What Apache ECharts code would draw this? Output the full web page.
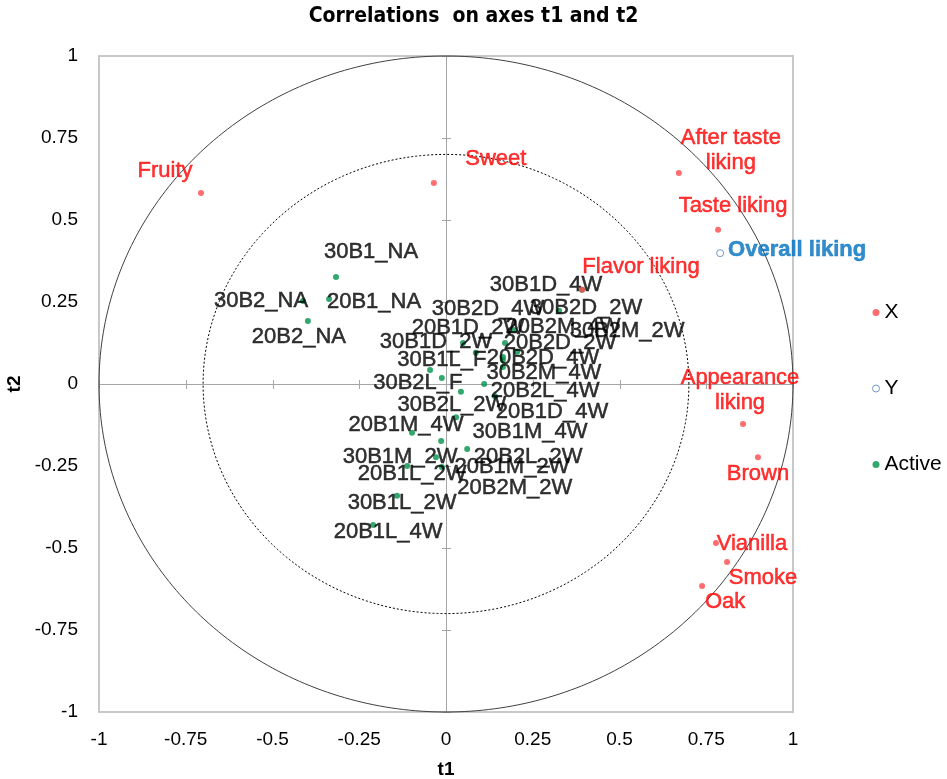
<!DOCTYPE html>
<html>
<head>
<meta charset="utf-8">
<script src="https://cdn.jsdelivr.net/npm/echarts@6/dist/echarts.min.js"></script>
<style>html,body{margin:0;padding:0;background:#fff}#c{width:947px;height:779px}</style>
</head>
<body>
<div id="c"></div>
<script>
// ---- data ----
const xNames = ['Fruity','Sweet','After taste liking','Taste liking','Flavor liking','Appearance liking','Brown','Vianilla','Smoke','Oak'];
const xT1 = [-0.706,-0.035,0.671,0.784,0.392,0.856,0.899,0.778,0.810,0.738];
const xT2 = [0.582,0.613,0.643,0.470,0.287,-0.122,-0.223,-0.485,-0.543,-0.616];

const yNames = ['Overall liking'];
const yT1 = [0.790];
const yT2 = [0.399];

const activeNames = ['30B1_NA','20B1_NA','30B2_NA','20B2_NA','30B1D_4W','30B2D_2W','20B2M_4W','30B2D_4W','20B2D_2W','30B1L_F','30B2M_2W','20B2D_4W','20B1D_2W','30B2M_4W','30B1D_2W','30B2L_F','20B2L_4W','30B2L_2W','20B1D_4W','30B1M_4W','20B1M_4W','30B1M_2W','20B2L_2W','20B1M_2W','20B1L_2W','20B2M_2W','30B1L_2W','20B1L_4W'];
const activeT1 = [-0.317,-0.337,-0.412,-0.398,0.392,0.326,0.196,0.049,0.170,0.086,0.205,0.164,0.164,0.164,-0.046,-0.012,0.110,0.043,0.141,0.029,-0.098,-0.014,0.061,-0.029,-0.112,-0.012,-0.141,-0.210];
const activeT2 = [0.326,0.259,0.253,0.192,0.287,0.223,0.165,0.125,0.125,0.095,0.098,0.082,0.073,0.052,0.043,0.018,0.000,-0.024,-0.037,-0.101,-0.149,-0.174,-0.198,-0.223,-0.250,-0.253,-0.341,-0.430];

const circleRadii = [1, 0.7];
const axisMin = -1, axisMax = 1, axisStep = 0.25;

// ---- label placement (style only) ----
const labelOffsets = {
  'Fruity':[-36,-22],'Sweet':[62,-24],'After taste liking':[52,-23],'Taste liking':[15,-24],
  'Flavor liking':[59,-23],'Appearance liking':[-3,-34],'Brown':[0,17],'Vianilla':[36,1],
  'Smoke':[36,16],'Oak':[23,16],'Overall liking':[77,-3],
  '30B1_NA':[35,-25],'20B1_NA':[45,3],'30B2_NA':[-42,0],'20B2_NA':[-9,16],
  '30B1D_4W':[-36,-5],'30B2D_2W':[27,-3],'20B2M_4W':[49,-3],'30B2D_4W':[25,-34],
  '20B2D_2W':[55,0],'30B1L_F':[-34,7],'30B2M_2W':[110,-21],'20B2D_4W':[40,1],
  '20B1D_2W':[-35,-32],'30B2M_4W':[41,6],'30B1D_2W':[6,-28],'30B2L_F':[-24,5],
  '20B2L_4W':[61,7],'30B2L_2W':[-9,13],'20B1D_4W':[57,16],'30B1M_4W':[74,15],
  '20B1M_4W':[-6,-8],'30B1M_2W':[-41,16],'20B2L_2W':[61,8],'20B1M_2W':[76,10],
  '20B1L_2W':[5,8],'20B2M_2W':[73,21],'30B1L_2W':[5,7],'20B1L_4W':[15,7]
};
const wrapped = {'After taste liking':'After taste\nliking','Appearance liking':'Appearance\nliking'};

function pts(names, a, b) {
  return names.map((n, i) => ({
    name: n, value: [a[i], b[i]],
    label: { offset: labelOffsets[n] || [0, 0] }
  }));
}

const tickValues = [];
for (let v = axisMin; v <= axisMax + 1e-9; v += axisStep) tickValues.push(+v.toFixed(4));

const FONT = 'Liberation Sans, Arial, sans-serif';
const chart = echarts.init(document.getElementById('c'), null, {renderer: 'canvas'});

const baseLabel = {show: true, position: 'inside', fontFamily: FONT, fontSize: 22,
  align: 'center', verticalAlign: 'middle', textShadowBlur: 0, textBorderWidth: 0.5};

const option = {
  backgroundColor: '#fff',
  animation: false,
  title: {
    text: 'Correlations  on axes t1 and t2',
    left: 'center', top: 1,
    textStyle: {fontFamily: 'Liberation Sans Narrow, DejaVu Sans Condensed, Liberation Sans, sans-serif', fontWeight: 'bold', fontSize: 21, color: '#000'}
  },
  legend: {
    orient: 'vertical', left: 867, top: 297,
    itemWidth: 7, itemHeight: 7, itemGap: 55,
    textStyle: {fontFamily: FONT, fontSize: 21, color: '#000'},
    data: [
      {name: 'X', icon: 'circle'},
      {name: 'Y', icon: 'circle', itemStyle: {color: '#fff', borderColor: '#4f81bd', borderWidth: 1}},
      {name: 'Active', icon: 'circle'}
    ]
  },
  grid: {left: 99, top: 56, width: 694, height: 656, show: true, borderColor: '#c8c8c8', borderWidth: 2,
    backgroundColor: 'transparent', containLabel: false, outerBoundsMode: 'none'},
  xAxis: {
    type: 'value', min: axisMin, max: axisMax, interval: axisStep, position: 'bottom',
    splitLine: {show: false}, axisLine: {show: false, onZero: false}, axisTick: {show: false},
    axisLabel: {fontFamily: FONT, fontSize: 19, color: '#000', margin: 18},
    name: 't1', nameLocation: 'middle', nameGap: 48,
    nameTextStyle: {fontFamily: FONT, fontSize: 19, fontWeight: 'bold', color: '#000'}
  },
  yAxis: {
    type: 'value', min: axisMin, max: axisMax, interval: axisStep, position: 'left',
    splitLine: {show: false}, axisLine: {show: false, onZero: false}, axisTick: {show: false},
    axisLabel: {fontFamily: FONT, fontSize: 19, color: '#000', margin: 21},
    name: 't2', nameLocation: 'middle', nameGap: 67, nameRotate: 90,
    nameTextStyle: {fontFamily: FONT, fontSize: 19, fontWeight: 'bold', color: '#000'}
  },
  series: [
    {
      // zero lines with crossing tick marks
      type: 'custom', name: 'zeroAxes', silent: true, z: 1,
      data: [[0, 0]],
      renderItem: function (params, api) {
        const st = {stroke: '#a6a6a6', lineWidth: 1};
        const children = [];
        const a = api.coord([axisMin, 0]), b = api.coord([axisMax, 0]);
        const c = api.coord([0, axisMin]), d = api.coord([0, axisMax]);
        children.push({type: 'line', shape: {x1: a[0], y1: Math.round(a[1]) + 0.5, x2: b[0], y2: Math.round(b[1]) + 0.5}, style: st});
        children.push({type: 'line', shape: {x1: Math.round(c[0]) + 0.5, y1: c[1], x2: Math.round(d[0]) + 0.5, y2: d[1]}, style: st});
        tickValues.forEach(function (v) {
          const p = api.coord([v, 0]);
          const px = Math.round(p[0]) + 0.5;
          children.push({type: 'line', shape: {x1: px, y1: p[1] - 4, x2: px, y2: p[1] + 5}, style: st});
          const q = api.coord([0, v]);
          const qy = Math.round(q[1]) + 0.5;
          children.push({type: 'line', shape: {x1: q[0] - 4, y1: qy, x2: q[0] + 5, y2: qy}, style: st});
        });
        return {type: 'group', children: children};
      }
    },
    {
      type: 'custom', name: 'circles', silent: true, z: 2,
      data: circleRadii.map(r => [0, 0, r]),
      renderItem: function (params, api) {
        const r = api.value(2);
        const points = [];
        for (let k = 0; k <= 360; k++) {
          const ang = k * Math.PI / 180;
          points.push(api.coord([r * Math.cos(ang), r * Math.sin(ang)]));
        }
        const dashed = params.dataIndex === 1;
        return {
          type: 'polyline',
          shape: {points: points},
          style: {fill: 'none', stroke: dashed ? '#000' : '#404040', lineWidth: 1, lineDash: dashed ? [2, 2] : null}
        };
      }
    },
    {
      type: 'scatter', name: 'Active', z: 3,
      symbol: 'circle', symbolSize: 6,
      itemStyle: {color: '#00924a'},
      label: Object.assign({}, baseLabel, {formatter: '{b}', color: '#000', textBorderColor: '#000'}),
      data: pts(activeNames, activeT1, activeT2)
    },
    {
      type: 'scatter', name: 'Y', z: 4,
      symbol: 'circle', symbolSize: 7,
      itemStyle: {color: '#fff', borderColor: '#4f81bd', borderWidth: 1},
      label: Object.assign({}, baseLabel, {formatter: '{b}', color: '#0070c0', textBorderColor: '#0070c0', fontWeight: 'bold'}),
      data: pts(yNames, yT1, yT2)
    },
    {
      type: 'scatter', name: 'X', z: 5,
      symbol: 'circle', symbolSize: 6,
      itemStyle: {color: '#ff4a4a'},
      label: Object.assign({}, baseLabel, {color: '#ff0000', textBorderColor: '#ff0000', lineHeight: 25,
        formatter: p => wrapped[p.name] || p.name}),
      data: pts(xNames, xT1, xT2)
    }
  ]
};
chart.setOption(option);
</script>
</body>
</html>
